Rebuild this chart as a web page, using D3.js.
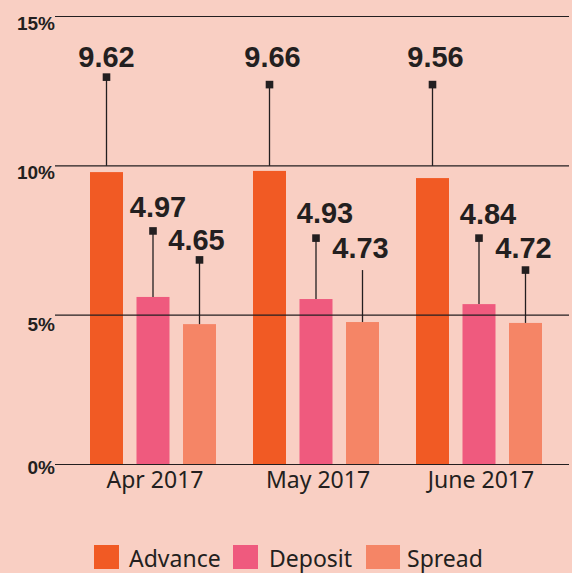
<!DOCTYPE html>
<html>
<head>
<meta charset="utf-8">
<script src="https://cdn.jsdelivr.net/npm/d3@7"></script>
<style>
  html, body { margin: 0; padding: 0; background: #f9cfc3; }
  svg { display: block; }
</style>
</head>
<body>
<svg id="chart" width="572" height="573"></svg>
<script>
// ---- data ----
const months = ["Apr 2017", "May 2017", "June 2017"];
const seriesNames = ["Advance", "Deposit", "Spread"];
// bar heights as drawn in the picture (%)
const advance = [9.79, 9.83, 9.59];
const deposit = [5.61, 5.54, 5.37];
const spread  = [4.70, 4.77, 4.74];
// printed value labels
const advanceLabels = ["9.62", "9.66", "9.56"];
const depositLabels = ["4.97", "4.93", "4.84"];
const spreadLabels  = ["4.65", "4.73", "4.72"];
const yTicks = [0, 5, 10, 15];
const yTickLabels = ["0%", "5%", "10%", "15%"];

// ---- layout / style ----
const W = 572, H = 573;
const colors = { Advance: "#f15a24", Deposit: "#ef5a7e", Spread: "#f58566" };
const ink = "#231f20";
const layout = {
  markerLevel: { Advance: [12.97, 12.72, 12.72], Deposit: [7.82, 7.58, 7.58], Spread: [6.85, 6.51, 6.51] },
  labelLevel:  { Advance: [13.32, 13.32, 13.32], Deposit: [8.28, 8.08, 8.04], Spread: [7.18, 6.90, 6.90] },
  labelDx:     { Advance: [0, 3, 3], Deposit: [5, 9, 9], Spread: [-3, -2, -2] },
  showMarker:  { Advance: [true, true, true], Deposit: [true, true, true], Spread: [true, false, true] },
  leaderStopAt:{ Advance: 10 },
  yLabelDy: [9, 16, 13.5, 13.5]
};

const values = { Advance: advance, Deposit: deposit, Spread: spread };
const labels = { Advance: advanceLabels, Deposit: depositLabels, Spread: spreadLabels };

const svg = d3.select("#chart");
svg.append("rect").attr("width", W).attr("height", H).attr("fill", "#f9cfc3");

const y = d3.scaleLinear().domain([0, 15]).range([464.5, 16.5]);
const x0 = d3.scaleBand().domain(months).range([90, 542]).paddingInner(37 / 163).paddingOuter(0);
const x1 = d3.scaleBand().domain(seriesNames).range([0, x0.bandwidth()]).paddingInner(13.5 / 46.5).paddingOuter(0);

// bars
const rows = [];
months.forEach((m, i) => seriesNames.forEach(s => rows.push({ m, i, s, v: values[s][i], lab: labels[s][i] })));

svg.append("g").selectAll("rect").data(rows).join("rect")
  .attr("x", d => x0(d.m) + x1(d.s))
  .attr("y", d => y(d.v))
  .attr("width", x1.bandwidth())
  .attr("height", d => y(0) - y(d.v))
  .attr("fill", d => colors[d.s]);

// gridlines (drawn over bars)
svg.append("g").selectAll("line").data(yTicks).join("line")
  .attr("x1", 55).attr("x2", 569)
  .attr("y1", d => y(d)).attr("y2", d => y(d))
  .attr("stroke", ink).attr("stroke-width", 1.2);

// y tick labels
svg.append("g").selectAll("text").data(yTicks).join("text")
  .attr("x", 55)
  .attr("y", (d, i) => y(d) + layout.yLabelDy[i])
  .attr("text-anchor", "end")
  .attr("font-family", "Liberation Sans, Arial, sans-serif")
  .attr("font-weight", "bold")
  .attr("font-size", 19)
  .attr("fill", ink)
  .text((d, i) => yTickLabels[i]);

// callouts
const cg = svg.append("g");
rows.forEach(d => {
  const cx = x0(d.m) + x1(d.s) + x1.bandwidth() / 2;
  const my = y(layout.markerLevel[d.s][d.i]);
  const stop = layout.leaderStopAt[d.s] !== undefined ? y(layout.leaderStopAt[d.s]) : y(d.v);
  cg.append("line")
    .attr("x1", cx).attr("x2", cx)
    .attr("y1", my).attr("y2", stop)
    .attr("stroke", ink).attr("stroke-width", 1.3);
  if (layout.showMarker[d.s][d.i]) {
    cg.append("rect")
      .attr("x", cx - 3.8).attr("y", my - 3.8)
      .attr("width", 7.6).attr("height", 7.6)
      .attr("fill", ink);
  }
  cg.append("text")
    .attr("x", cx + layout.labelDx[d.s][d.i])
    .attr("y", y(layout.labelLevel[d.s][d.i]))
    .attr("text-anchor", "middle")
    .attr("font-family", "Liberation Sans, Arial, sans-serif")
    .attr("font-weight", "bold")
    .attr("font-size", 29)
    .attr("fill", ink)
    .text(d.lab);
});

// x axis labels
svg.append("g").selectAll("text").data(months).join("text")
  .attr("x", d => x0(d) + x0.bandwidth() / 2 + 2)
  .attr("y", 488)
  .attr("text-anchor", "middle")
  .attr("font-family", "Noto Sans, Open Sans, sans-serif")
  .attr("font-size", 23)
  .attr("fill", ink)
  .text(d => d);

// legend
const legendItems = [
  { s: "Advance", sx: 94, sw: 25, tx: 129 },
  { s: "Deposit", sx: 233, sw: 25, tx: 269 },
  { s: "Spread", sx: 366, sw: 34, tx: 407 }
];
const lg = svg.append("g");
legendItems.forEach(it => {
  lg.append("rect").attr("x", it.sx).attr("y", 545).attr("width", it.sw).attr("height", 24).attr("fill", colors[it.s]);
  lg.append("text").attr("x", it.tx).attr("y", 567)
    .attr("font-family", "Noto Sans, Open Sans, sans-serif")
    .attr("font-size", 23).attr("fill", ink).text(it.s);
});
</script>
</body>
</html>
